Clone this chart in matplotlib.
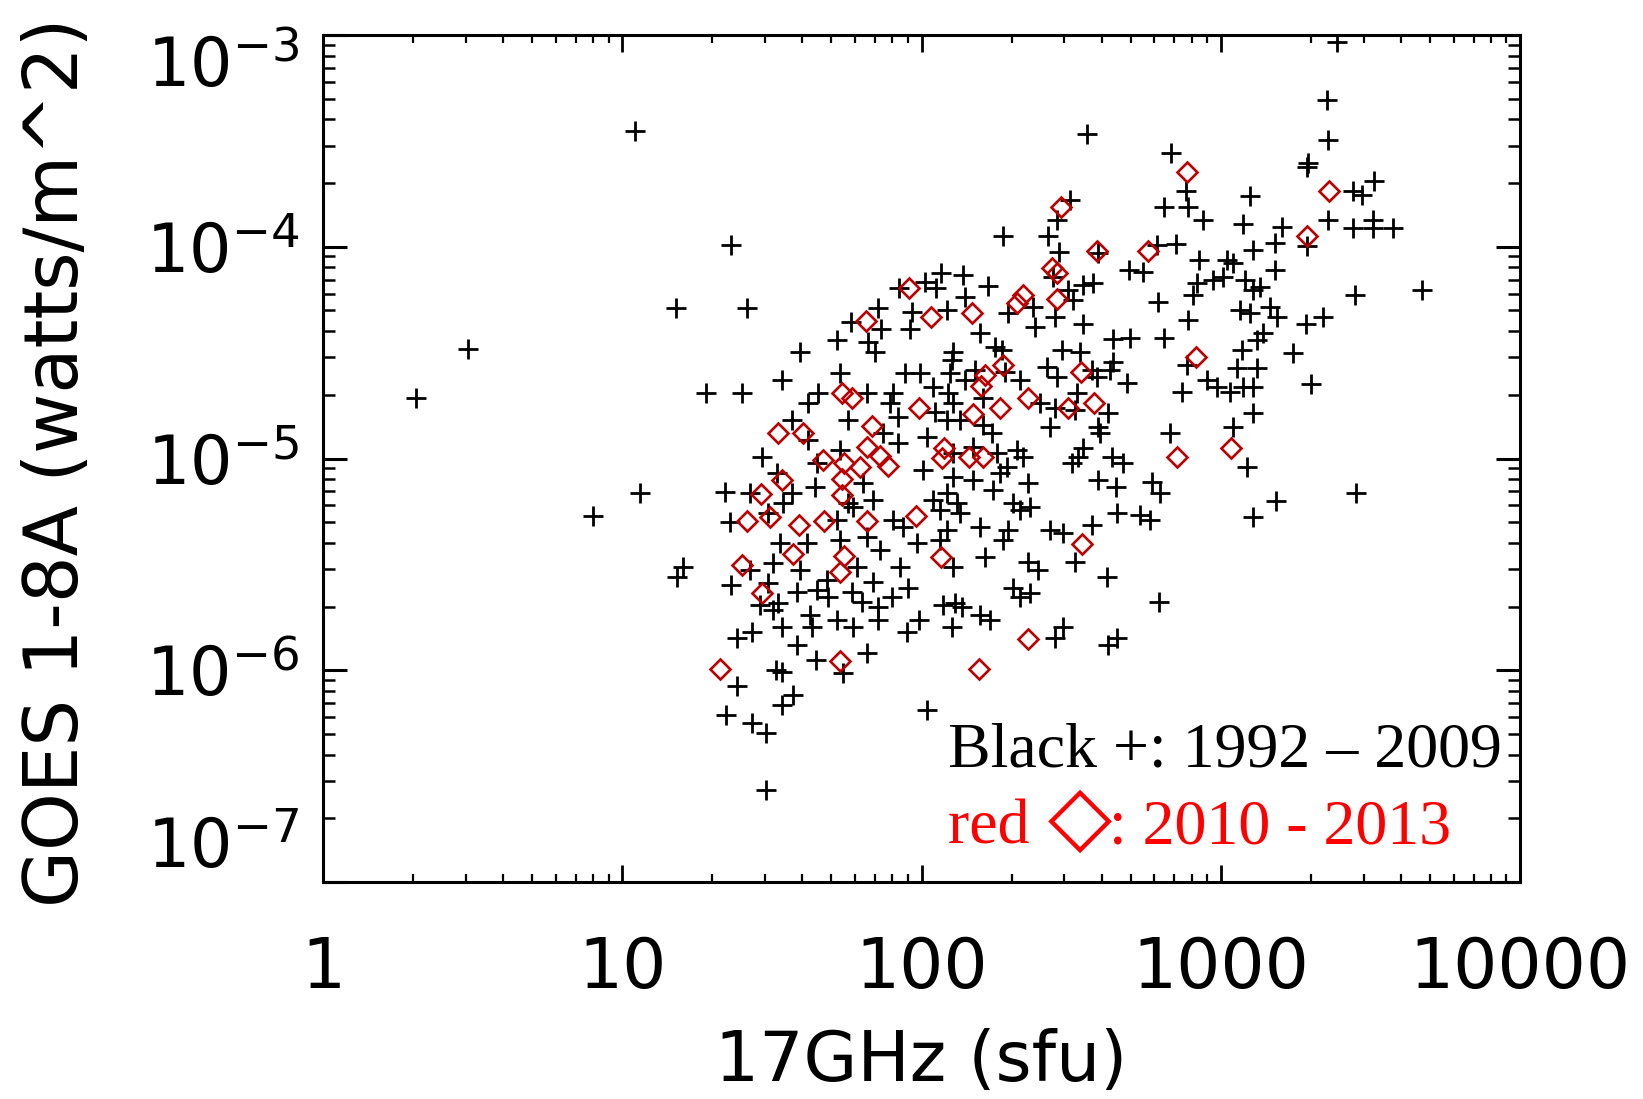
import numpy as np
import matplotlib
matplotlib.use("Agg")
import matplotlib.pyplot as plt

# ---- data: log10(17 GHz flux [sfu]) and log10(GOES 1-8A flux [W/m^2]) ----
black_log_sfu = [
 1.363,1.179,1.417,1.594,1.718,1.764,1.855,1.864,1.820,1.845,1.925,1.968,1.962,2.012,2.048,2.064,2.084,2.105,
 1.533,1.280,1.401,1.728,1.655,1.817,1.945,1.995,1.906,1.895,2.038,2.101,1.622,1.566,1.756,1.922,2.045,2.084,
 1.466,1.622,1.650,1.728,1.873,1.922,2.017,2.006,2.105,1.516,1.343,1.566,1.644,1.806,1.839,1.756,2.038,2.084,
 1.059,1.427,1.538,1.360,1.488,1.717,1.772,1.906,1.939,2.062,2.084,1.527,1.616,1.728,1.817,1.861,1.984,2.062,
 1.204,1.182,1.427,1.505,1.594,1.783,1.928,2.105,
 1.363,1.488,1.583,1.650,1.683,1.689,1.767,1.800,1.839,1.900,1.956,1.856,1.856,1.521,1.505,1.460,1.533,1.432,
 1.382,1.627,1.635,1.717,1.772,1.990,1.950,2.101,2.073,2.112,1.583,1.646,1.817,1.514,1.533,1.739,1.382,1.569,
 1.533,1.346,1.432,1.480,2.017,1.480,
 2.552,2.834,2.884,3.098,2.810,2.889,2.942,3.075,2.496,2.452,2.273,2.424,2.460,2.591,2.849,2.786,2.694,2.741,
 2.928,3.020,3.042,3.109,2.140,2.145,2.223,2.541,2.574,2.491,2.507,2.440,2.920,2.975,3.009,3.081,3.109,2.908,
 2.791,2.892,3.064,3.098,2.290,2.374,2.379,2.446,2.539,2.196,2.246,2.268,2.641,2.697,2.810,2.468,2.530,3.070,3.120,
 2.641,2.886,3.053,2.953,2.987,3.031,3.075,3.109,2.869,2.630,2.686,2.585,2.569,2.452,2.418,2.329,2.279,2.179,
 2.095,2.145,2.090,2.106,2.207,2.396,2.519,2.446,2.513,2.624,2.129,2.207,2.234,2.429,2.591,2.597,2.830,3.042,
 3.109,2.173,2.251,2.318,2.340,2.285,2.541,2.524,2.502,2.635,2.674,2.106,2.173,2.262,2.240,2.357,2.591,2.649,
 2.769,2.797,2.117,2.129,2.307,2.329,2.363,2.196,2.290,2.273,2.429,2.474,2.569,2.652,2.730,2.764,2.212,2.357,
 2.390,2.513,2.619,3.109,3.087,
 2.134,2.196,2.229,2.307,2.329,2.363,2.474,2.446,2.624,2.652,2.795,
 3.387,3.356,3.357,3.293,3.287,3.513,3.443,3.471,3.359,3.443,3.509,3.509,3.576,3.204,3.287,3.181,3.181,3.131,
 3.449,3.674,3.164,3.187,3.343,3.285,3.142,3.242,
 3.120,3.302,3.452,3.185,
 0.311,0.483,0.902,1.044,
]
black_log_goes = [
 -3.992,-4.291,-4.291,-4.497,-4.440,-4.354,-4.290,-4.389,-4.448,-4.497,-4.195,-4.307,-4.389,-4.165,-4.195,-4.125,-4.299,-4.497,
 -4.629,-4.692,-4.692,-4.598,-4.692,-4.692,-4.598,-4.598,-4.692,-4.739,-4.661,-4.535,-4.739,-4.818,-4.818,-4.803,-4.779,-4.818,
 -4.991,-4.913,-5.023,-4.960,-4.881,-4.928,-4.897,-5.054,-4.976,-5.070,-5.157,-5.164,-5.133,-5.117,-5.196,-5.212,-5.196,-5.164,
 -5.164,-5.164,-5.212,-5.298,-5.259,-5.290,-5.228,-5.290,-5.322,-5.243,-5.338,-5.400,-5.400,-5.385,-5.369,-5.432,-5.400,-5.385,
 -5.511,-5.558,-5.527,-5.495,-5.527,-5.511,-5.511,-5.511,
 -5.597,-5.589,-5.629,-5.621,-5.574,-5.653,-5.629,-5.676,-5.582,-5.653,-5.613,-5.700,-5.763,-5.684,-5.716,-5.692,-5.794,-5.818,
 -5.849,-5.739,-5.794,-5.763,-5.794,-5.763,-5.818,-5.794,-5.692,-5.684,-5.881,-5.952,-5.917,-5.999,-6.007,-6.011,-6.074,-6.117,
 -6.164,-6.211,-6.248,-6.298,-6.188,-6.566,
 -3.469,-3.556,-3.735,-3.760,-3.814,-3.811,-3.874,-3.894,-3.779,-3.874,-3.948,-3.948,-4.023,-4.031,-3.988,-3.992,-4.110,-4.118,
 -4.063,-4.063,-4.078,-4.015,-4.133,-4.236,-4.184,-4.181,-4.173,-4.204,-4.251,-4.141,-4.173,-4.157,-4.141,-4.157,-4.204,-4.228,
 -4.259,-4.346,-4.299,-4.314,-4.314,-4.283,-4.377,-4.330,-4.365,-4.409,-4.472,-4.488,-4.437,-4.433,-4.433,-4.488,-4.496,-4.488,-4.440,
 -4.543,-4.558,-4.574,-4.629,-4.661,-4.684,-4.661,-4.661,-4.684,-4.582,-4.645,-4.614,-4.582,-4.614,-4.566,-4.629,-4.590,-4.582,
 -4.598,-4.629,-4.692,-4.739,-4.716,-4.739,-4.692,-4.763,-4.771,-4.787,-4.818,-4.842,-4.881,-4.850,-4.850,-4.881,-4.881,-4.850,
 -4.787,-4.944,-4.975,-4.960,-4.991,-5.039,-4.952,-4.991,-5.023,-4.991,-5.023,-5.086,-5.102,-5.070,-5.149,-5.117,-5.102,-5.133,
 -5.110,-5.164,-5.212,-5.259,-5.212,-5.243,-5.228,-5.322,-5.338,-5.385,-5.338,-5.353,-5.314,-5.259,-5.267,-5.290,-5.464,-5.487,
 -5.527,-5.487,-5.558,-5.275,-5.039,
 -5.700,-5.739,-5.763,-5.613,-5.653,-5.637,-5.794,-5.849,-5.881,-5.849,-5.676,
 -3.032,-3.307,-3.496,-3.606,-3.622,-3.688,-3.735,-3.756,-3.874,-3.913,-3.874,-3.913,-3.913,-3.908,-3.996,-3.984,-4.110,-4.189,
 -4.228,-4.204,-4.283,-4.330,-4.333,-4.365,-4.409,-4.503,
 -4.574,-4.648,-5.161,-5.201,
 -4.716,-4.483,-5.270,-3.455,
]
red_log_sfu = [
 1.815,1.958,2.032,
 1.733,1.767,1.993,1.836,1.519,1.605,2.075,2.067,1.817,1.672,1.741,1.795,1.861,1.889,1.735,1.533,1.464,1.733,
 1.982,1.416,1.494,1.592,1.675,1.817,1.569,1.741,2.064,1.399,1.728,
 1.466,1.325,1.728,
 2.888,2.466,2.587,2.758,2.435,2.454,2.340,2.318,2.452,2.170,2.918,
 2.532,2.212,2.198,2.273,2.355,2.577,2.491,2.262,2.173,2.160,2.207,2.855,3.033,2.535,
 2.355,2.193,
 3.363,3.287,
]
red_log_goes = [
 -4.349,-4.194,-4.330,
 -4.689,-4.716,-4.763,-4.847,-4.878,-4.878,-4.952,-4.999,-4.947,-5.006,-5.023,-5.039,-4.988,-5.036,-5.098,-5.102,-5.168,-5.174,
 -5.270,-5.295,-5.275,-5.314,-5.295,-5.295,-5.453,-5.461,-5.464,-5.503,-5.534,
 -5.633,-5.996,-5.956,
 -3.649,-3.814,-4.020,-4.020,-4.102,-4.125,-4.228,-4.267,-4.248,-4.314,-4.520,
 -4.593,-4.606,-4.656,-4.558,-4.713,-4.739,-4.763,-4.763,-4.790,-4.995,-4.995,-4.995,-4.952,-5.404,
 -5.852,-5.996,
 -3.735,-3.949,
]

x_ticks = [1, 10, 100, 1000, 10000]
x_tick_labels = ["1", "10", "100", "1000", "10000"]
y_ticks = [1e-7, 1e-6, 1e-5, 1e-4, 1e-3]
y_tick_labels = [r"$10^{-7}$", r"$10^{-6}$", r"$10^{-5}$", r"$10^{-4}$", r"$10^{-3}$"]
x_label = "17GHz (sfu)"
y_label = "GOES 1-8A (watts/m^2)"
legend_black = "Black +: 1992 \u2013 2009"
legend_red_parts = ["red ", "\u25C7", ": 2010 - 2013"]

plt.rcParams["font.family"] = ["DejaVu Sans"]
plt.rcParams["mathtext.fontset"] = "dejavusans"

fig = plt.figure(figsize=(16.43, 10.99), dpi=100)
ax = fig.add_axes([323/1643, 1 - 882/1099, 1197/1643, 847/1099])

bx = np.power(10.0, black_log_sfu)
by = np.power(10.0, black_log_goes)
rx = np.power(10.0, red_log_sfu)
ry = np.power(10.0, red_log_goes)

ax.plot(bx, by, linestyle="none", marker="+", markersize=15, markeredgewidth=2.0, color="black")
ax.plot(rx, ry, linestyle="none", marker="D", markersize=10.5, markeredgewidth=1.9,
        markerfacecolor="none", markeredgecolor="#bb0000")

ax.set_xscale("log")
ax.set_yscale("log")
ax.set_xlim(1, 10000)
ax.set_ylim(1e-7, 1e-3)

ax.set_xticks(x_ticks)
ax.set_xticklabels(x_tick_labels)
ax.set_yticks(y_ticks)
ax.set_yticklabels(y_tick_labels)

for s in ax.spines.values():
    s.set_linewidth(2.2)

ax.tick_params(axis="both", which="both", direction="in", top=True, right=True)
ax.tick_params(axis="x", which="major", length=12, width=2.0, pad=38, labelsize=50)
ax.tick_params(axis="x", which="minor", length=6, width=1.6)
ax.tick_params(axis="y", which="major", length=17, width=2.2, pad=17, labelsize=48)
ax.tick_params(axis="y", which="minor", length=8.5, width=1.8)

# IDL-like placement of the end labels
ylabs = ax.get_yticklabels()
ylabs[0].set_va("bottom")
ylabs[-1].set_va("top")

ax.set_xlabel(x_label, fontsize=50)
ax.xaxis.set_label_coords(0.5, -0.212)
ax.xaxis.label.set_va("center")
ax.set_ylabel(y_label, fontsize=53)
ax.yaxis.set_label_coords(-0.222, 0.495)
ax.yaxis.label.set_va("center")

serif = ["Liberation Serif", "DejaVu Sans"]
ax.text(0.522, 0.136, legend_black, transform=ax.transAxes, fontsize=46,
        family=serif, color="black", va="baseline", ha="left")

# second legend line built from pieces so that the diamond can be larger
fig.canvas.draw()
renderer = fig.canvas.get_renderer()
base_px = ax.transAxes.transform((0.522, 0.046))
inv = ax.transAxes.inverted()
t1 = ax.text(0.522, 0.046, legend_red_parts[0], transform=ax.transAxes, fontsize=46,
             family=serif, color="red", va="baseline", ha="left")
bb1 = t1.get_window_extent(renderer)
xa = inv.transform((bb1.x1 + 2, base_px[1]))[0]
t2 = ax.text(xa, 0.046, legend_red_parts[1], transform=ax.transAxes, fontsize=60,
             family=["DejaVu Sans"], color="red", va="baseline", ha="left")
bb2 = t2.get_window_extent(renderer)
xb = inv.transform((bb2.x1 - 2, base_px[1]))[0]
ax.text(xb, 0.046, legend_red_parts[2], transform=ax.transAxes, fontsize=46,
        family=serif, color="red", va="baseline", ha="left")

fig.savefig("out.png", dpi=100)
